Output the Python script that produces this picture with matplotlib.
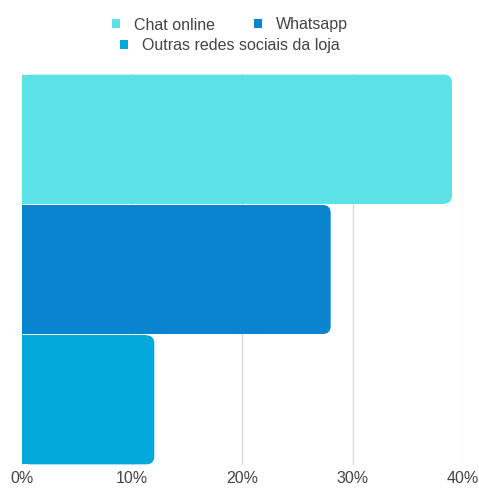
import matplotlib
matplotlib.use("Agg")
import matplotlib.pyplot as plt
from matplotlib.patches import FancyBboxPatch, Patch
from matplotlib.ticker import FuncFormatter

plt.rcParams["font.family"] = ["Liberation Sans", "DejaVu Sans"]

# ---- data ----
channels = ["Chat online", "Whatsapp", "Outras redes sociais da loja"]
shares = [39.0, 28.0, 12.0]          # percent of answers
colors = ["#5ce1e6", "#0b84d0", "#03a9d9"]
xticks = [0, 10, 20, 30, 40]

W, H = 479, 488
fig = plt.figure(figsize=(W / 100, H / 100), dpi=100)
ax = fig.add_axes([22 / W, 23 / H, (463 - 22) / W, (465 - 74) / H])

ax.set_xlim(0, 40)
ax.set_ylim(2.5, -0.5)

# rounded right ends: round box over full bar, plain rectangle hides left corners
px_x = 40 / (463 - 22)       # data units per pixel, x
px_y = 3 / (465 - 74)        # data units per pixel, y
r = 8 * px_x
bars = ax.barh(range(len(shares)), shares, height=0.99, color=colors, zorder=2)
for b, c in zip(bars, colors):
    x0, y0, w, h = b.get_x(), b.get_y(), b.get_width(), b.get_height()
    b.set_width(max(w - r, 0))
    box = FancyBboxPatch((x0, y0), w, h,
                         boxstyle=f"round,pad=0,rounding_size={r}",
                         mutation_aspect=px_y / px_x,
                         facecolor=c, edgecolor="none", zorder=2)
    ax.add_patch(box)

ax.set_xticks(xticks)
ax.xaxis.set_major_formatter(FuncFormatter(lambda v, _: f"{v:.0f}%"))
ax.set_yticks([])
ax.grid(axis="x", color="#d9d9d9", linewidth=1, zorder=0)
for s in ax.spines.values():
    s.set_visible(False)
ax.tick_params(axis="x", length=0, pad=4, labelsize=11.5, labelcolor="#444444")

# legend: two centered rows
handles = [Patch(facecolor=c, edgecolor="none") for c in colors]
leg_kw = dict(frameon=False, fontsize=11.5, handlelength=0.5, handleheight=0.5,
              handletextpad=0.9, columnspacing=2.4, labelcolor="#444444",
              borderaxespad=0, borderpad=0, loc="center")
fig.legend(handles[:2], channels[:2], ncol=2,
           bbox_to_anchor=(230 / W, 1 - 25 / H), **leg_kw)
fig.legend(handles[2:], channels[2:], ncol=1,
           bbox_to_anchor=(230 / W, 1 - 46 / H), **leg_kw)

fig.savefig("out.png", dpi=100)
